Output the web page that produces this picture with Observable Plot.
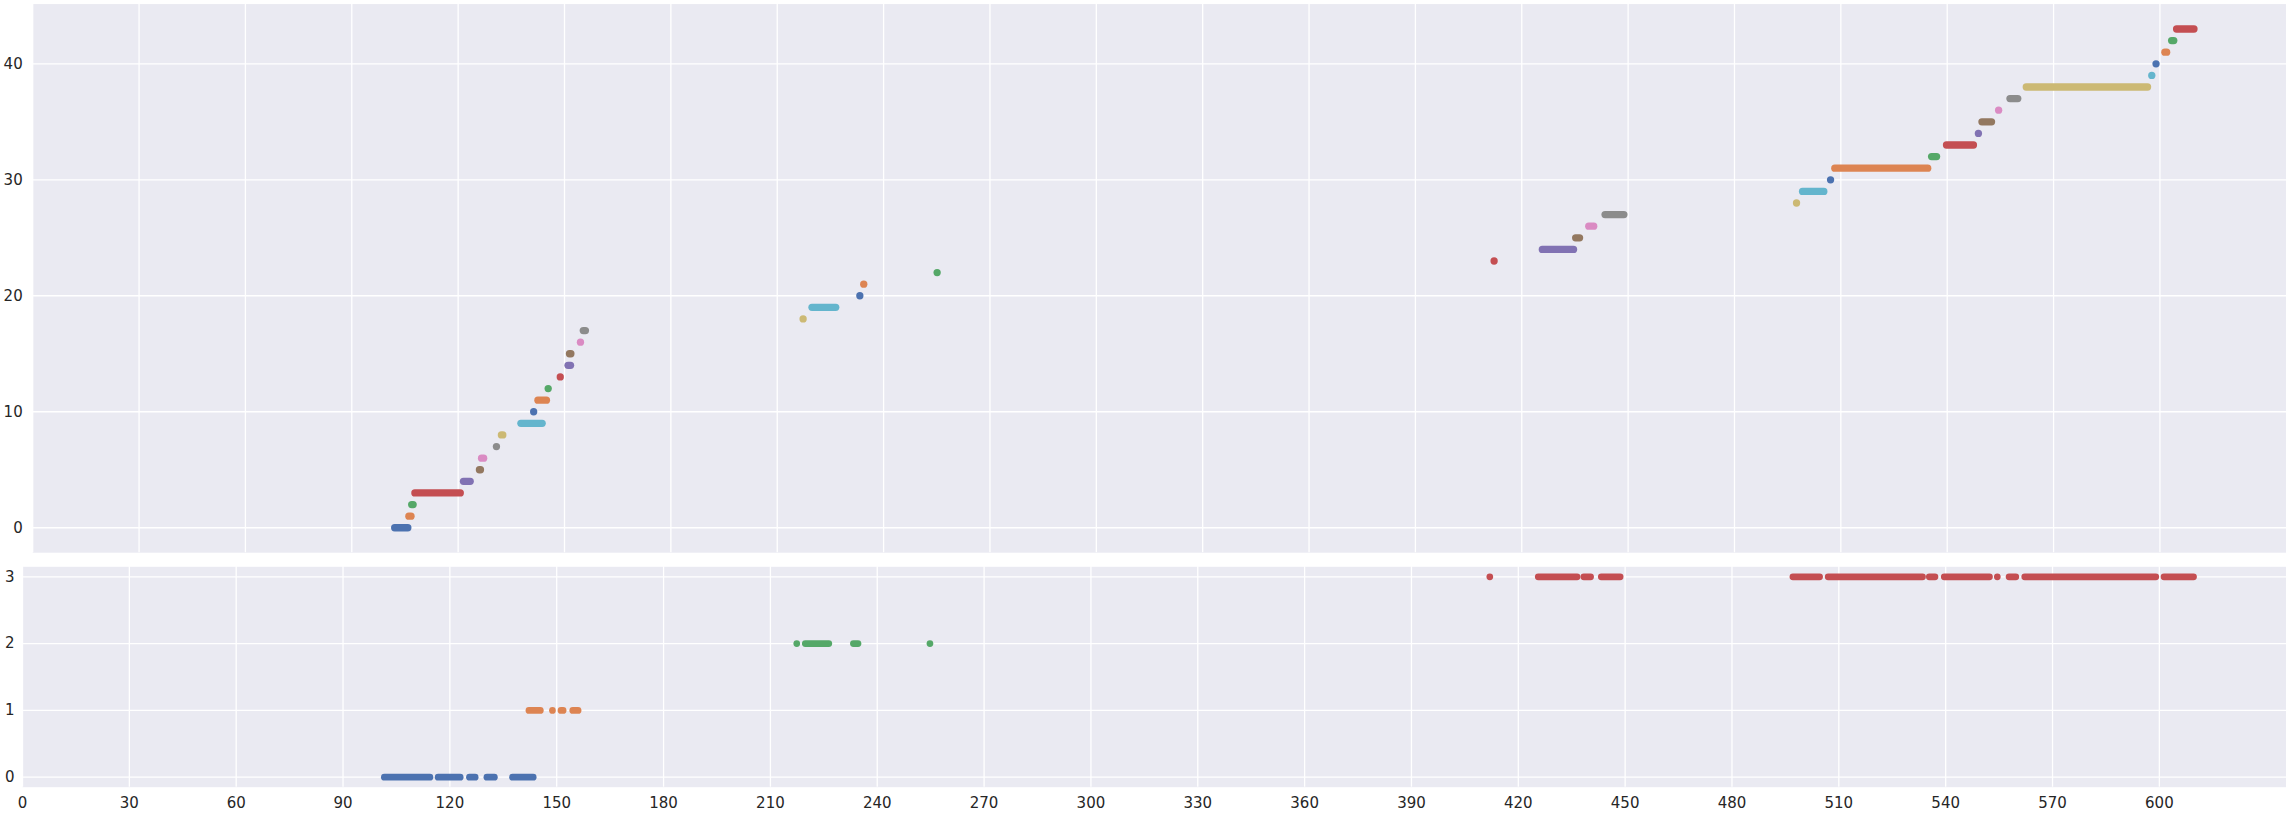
<!DOCTYPE html>
<html>
<head>
<meta charset="utf-8">
<script src="https://cdn.jsdelivr.net/npm/d3@7"></script>
<script src="https://cdn.jsdelivr.net/npm/@observablehq/plot@0.6"></script>
<style>
  html, body { margin: 0; padding: 0; background: #ffffff; overflow: hidden; }
  #wrap { position: relative; width: 2286px; height: 815px; }
  #top, #bottom { position: absolute; left: 0; }
  #top { top: 0; }
  #bottom { top: 556px; }
  svg { display: block; }
</style>
</head>
<body>
<div id="wrap"><div id="top"></div><div id="bottom"></div></div>
<script>
// ---- Data ----
// Top panel: one horizontal run of points per cluster id (0..43)
const clusterIds   = d3.range(44);
const clusterStart = [102.1,106.1,106.9,107.8,121.5,126.0,126.6,130.8,132.2,137.7,
                      141.3,142.5,145.4,148.8,151.0,151.4,154.5,155.3,217.3,219.8,
                      233.3,234.4,255.1,412.2,425.8,435.2,438.9,443.5,497.5,499.2,
                      507.1,508.3,535.6,539.8,548.8,549.8,554.5,557.7,562.3,597.7,
                      598.9,601.4,603.3,604.7];
const clusterEnd   = [105.8,106.7,107.3,120.6,123.4,126.3,127.2,130.8,132.6,143.7,
                      141.3,144.9,145.4,148.8,151.7,151.8,154.5,155.9,217.3,226.5,
                      233.3,234.4,255.1,412.2,434.6,436.3,440.3,448.8,497.5,505.2,
                      507.1,534.5,537.0,547.4,548.8,552.5,554.5,559.9,596.5,597.7,
                      598.9,601.9,603.9,609.6];

// Bottom panel: runs of points per class (0..3)
const classSegClass = [0,0,0,0,0, 1,1,1,1, 2,2,2,2, 3,3,3,3,3,3,3,3,3,3,3,3];
const classSegStart = [101.6,116.7,125.5,130.4,137.6, 142.2,148.8,151.2,154.5,
                       217.4,219.8,233.3,254.8,
                       412.0,425.6,438.4,443.3,497.1,507.0,535.4,539.6,554.5,557.8,562.2,601.3];
const classSegEnd   = [114.4,122.9,127.1,132.5,143.4, 145.4,148.8,151.8,156.0,
                       217.4,226.4,234.6,254.8,
                       412.0,436.5,440.3,448.6,504.6,533.5,537.0,552.3,554.5,559.7,599.0,609.6];

const xTicks = d3.range(0, 601, 30);
const topYTicks = [0, 10, 20, 30, 40];
const bottomYTicks = [0, 1, 2, 3];

// ---- Styling ----
const palette = ["#4C72B0","#DD8452","#55A868","#C44E52","#8172B3",
                 "#937860","#DA8BC3","#8C8C8C","#CCB974","#64B5CD"];
const panelBg = "#EAEAF2";
const textColor = "#262626";
const font = "DejaVu Sans, sans-serif";
const fmt = d => String(d);

const topRows = clusterIds.map((c, i) => ({cluster: c, start: clusterStart[i], end: clusterEnd[i]}));
const bottomRows = classSegClass.map((c, i) => ({cls: c, start: classSegStart[i], end: classSegEnd[i]}));

const topPlot = Plot.plot({
  width: 2286, height: 556,
  marginLeft: 32.2, marginRight: 0, marginTop: 3.55, marginBottom: 3.8,
  style: {fontFamily: font, fontSize: "15px", color: textColor, background: "transparent"},
  x: {domain: [0, 635.7], axis: null},
  y: {domain: [-2.15, 45.15], axis: null},
  color: {type: "identity"},
  marks: [
    Plot.frame({fill: panelBg, stroke: null}),
    Plot.gridX(xTicks, {stroke: "#ffffff", strokeOpacity: 1, strokeWidth: 1.3}),
    Plot.gridY(topYTicks, {stroke: "#ffffff", strokeOpacity: 1, strokeWidth: 1.3}),
    Plot.axisY(topYTicks, {tickSize: 0, tickPadding: 10, fontSize: 15, fill: textColor, label: null, tickFormat: fmt}),
    Plot.link(topRows, {
      x1: "start", x2: "end", y1: "cluster", y2: "cluster",
      stroke: d => palette[d.cluster % palette.length],
      strokeWidth: 7.3, strokeLinecap: "round", strokeOpacity: 1
    })
  ]
});
document.getElementById("top").appendChild(topPlot);

const bottomPlot = Plot.plot({
  width: 2286, height: 259,
  marginLeft: 22, marginRight: 0, marginTop: 10.3, marginBottom: 28.3,
  style: {fontFamily: font, fontSize: "15px", color: textColor, background: "transparent"},
  x: {domain: [0, 635.7], axis: null},
  y: {domain: [-0.15, 3.15], axis: null},
  color: {type: "identity"},
  marks: [
    Plot.frame({fill: panelBg, stroke: null}),
    Plot.gridX(xTicks, {stroke: "#ffffff", strokeOpacity: 1, strokeWidth: 1.3}),
    Plot.gridY(bottomYTicks, {stroke: "#ffffff", strokeOpacity: 1, strokeWidth: 1.3}),
    Plot.axisY(bottomYTicks, {tickSize: 0, tickPadding: 8, fontSize: 15, fill: textColor, label: null, tickFormat: fmt}),
    Plot.axisX(xTicks, {tickSize: 0, tickPadding: 10, fontSize: 15, fill: textColor, label: null, tickFormat: fmt}),
    Plot.link(bottomRows, {
      x1: "start", x2: "end", y1: "cls", y2: "cls",
      stroke: d => palette[d.cls % palette.length],
      strokeWidth: 6.7, strokeLinecap: "round", strokeOpacity: 1
    })
  ]
});
document.getElementById("bottom").appendChild(bottomPlot);
</script>
</body>
</html>
